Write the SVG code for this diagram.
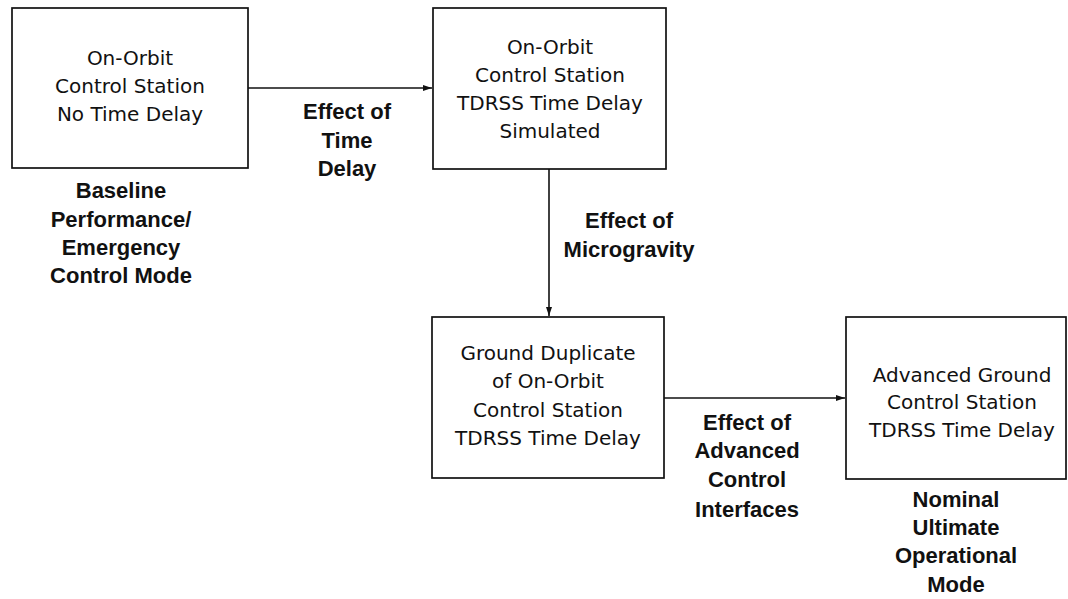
<svg xmlns="http://www.w3.org/2000/svg" width="1068" height="599" viewBox="0 0 1068 599">
<style>
.box{fill:#fff;stroke:#111;stroke-width:1.7}
.t{font-family:"DejaVu Sans",sans-serif;font-size:20px;fill:#111;text-anchor:middle}
.b{font-family:"Liberation Sans",Arial,sans-serif;font-size:22px;font-weight:bold;fill:#111;text-anchor:middle}
.c{stroke:#111;stroke-width:1.6;fill:none;marker-end:url(#ah)}
</style>
<defs>
<marker id="ah" viewBox="0 0 9 6" refX="9" refY="3" markerWidth="9" markerHeight="6" markerUnits="userSpaceOnUse" orient="auto">
<path d="M0,0 L9,3 L0,6 Z" fill="#111"/>
</marker>
</defs>
<rect width="1068" height="599" fill="#fff"/>
<g id="connectors">
<line class="c" x1="248" y1="88" x2="432" y2="88"/>
<line class="c" x1="549" y1="169" x2="549" y2="316"/>
<line class="c" x1="664" y1="398" x2="845" y2="398"/>
</g>
<g id="n1">
<rect class="box" x="12" y="8" width="236" height="160"/>
<text class="t" x="130" y="65">On-Orbit</text>
<text class="t" x="130" y="93">Control Station</text>
<text class="t" x="130" y="121">No Time Delay</text>
</g>
<g id="n2">
<rect class="box" x="433" y="8" width="233" height="161"/>
<text class="t" x="550" y="54">On-Orbit</text>
<text class="t" x="550" y="82">Control Station</text>
<text class="t" x="550" y="110">TDRSS Time Delay</text>
<text class="t" x="550" y="138">Simulated</text>
</g>
<g id="n3">
<rect class="box" x="432" y="317" width="232" height="161"/>
<text class="t" x="548" y="360">Ground Duplicate</text>
<text class="t" x="548" y="388">of On-Orbit</text>
<text class="t" x="548" y="417">Control Station</text>
<text class="t" x="548" y="445">TDRSS Time Delay</text>
</g>
<g id="n4">
<rect class="box" x="846" y="317" width="220" height="162"/>
<text class="t" x="962" y="382">Advanced Ground</text>
<text class="t" x="962" y="409">Control Station</text>
<text class="t" x="962" y="437">TDRSS Time Delay</text>
</g>
<g id="labels">
<text class="b" x="347" y="119">Effect of</text>
<text class="b" x="347" y="148">Time</text>
<text class="b" x="347" y="176">Delay</text>
<text class="b" x="121" y="198">Baseline</text>
<text class="b" x="121" y="227">Performance/</text>
<text class="b" x="121" y="255">Emergency</text>
<text class="b" x="121" y="283">Control Mode</text>
<text class="b" x="629" y="228">Effect of</text>
<text class="b" x="629" y="257">Microgravity</text>
<text class="b" x="747" y="430">Effect of</text>
<text class="b" x="747" y="458">Advanced</text>
<text class="b" x="747" y="487">Control</text>
<text class="b" x="747" y="517">Interfaces</text>
<text class="b" x="956" y="507">Nominal</text>
<text class="b" x="956" y="535">Ultimate</text>
<text class="b" x="956" y="563">Operational</text>
<text class="b" x="956" y="592">Mode</text>
</g>
</svg>
